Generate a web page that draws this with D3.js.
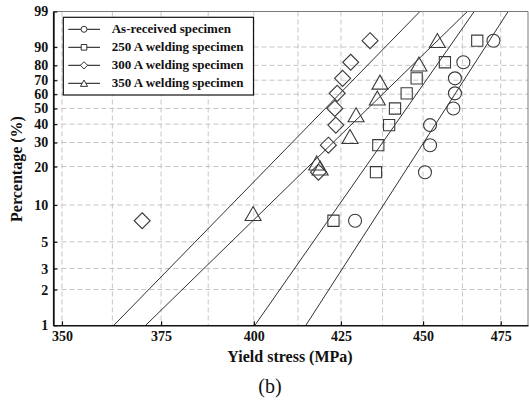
<!DOCTYPE html>
<html>
<head>
<meta charset="utf-8">
<script src="https://cdn.jsdelivr.net/npm/d3@7/dist/d3.min.js"></script>
<style>
  body { margin: 0; background: #fff; }
  svg { display: block; }
  text { font-family: "Liberation Serif", "Times New Roman", serif; }
</style>
</head>
<body>
<svg id="chart" width="529" height="403"></svg>
<script>
// Weibull probability plot of yield stress for four specimen groups

const seriesNames = [
  "As-received specimen",
  "250 A welding specimen",
  "300 A welding specimen",
  "350 A welding specimen"
];

// Median-rank plotting positions (%) for nine specimens
const rankPercent = [7.45, 18.1, 28.7, 39.4, 50.0, 60.6, 71.3, 81.9, 92.6];

// Yield stress (MPa), ordered by rank
const asReceived = [429.2, 450.6, 452.2, 452.2, 459.6, 460.1, 460.1, 462.8, 472.6];
const weld250    = [422.8, 435.5, 436.2, 439.5, 441.3, 444.9, 448.0, 456.9, 467.3];
const weld300    = [370.1, 418.4, 421.3, 423.5, 423.2, 423.9, 425.5, 427.9, 433.7];
const weld350    = [399.8, 418.9, 417.9, 427.7, 429.5, 435.9, 436.7, 448.7, 454.5];
const weld350Percent = [8.5, 19.4, 21.2, 32.9, 45.7, 57.1, 68.5, 80.7, 92.6];

// Fitted two-parameter Weibull lines: shape m and scale eta (MPa)
const shapeM   = [43.52, 40.14, 28.77, 27.37];
const scaleEta = [461.0, 448.9, 425.8, 438.9];

// Axis ticks
const xTicks = [350, 375, 400, 425, 450, 475];
const xGrid  = [350, 362.5, 375, 387.5, 400, 412.5, 425, 437.5, 450, 462.5, 475];
const yTicks = [1, 2, 3, 5, 10, 20, 30, 40, 50, 60, 70, 80, 90, 99];

const markers = ["circle", "square", "diamond", "triangle"];

// ---- layout ----
const plot = { left: 53.3, right: 528, top: 11.5, bottom: 325.3 };

const svg = d3.select("#chart");

// Weibull transform of a probability
const wb = p => Math.log(-Math.log(1 - p));

const x = d3.scaleLog().domain([347.9, 484.1]).range([plot.left, plot.right]);
const y = d3.scaleLinear().domain([wb(0.01), wb(0.99)]).range([plot.bottom, plot.top]);
const yP = pct => y(wb(pct / 100));

// ---- grid ----
const grid = svg.append("g").attr("stroke", "#c6c6c6").attr("stroke-width", 1)
  .attr("stroke-dasharray", "5,3").attr("fill", "none");
grid.selectAll("line.v").data(xGrid).join("line").attr("class", "v")
  .attr("x1", d => x(d)).attr("x2", d => x(d))
  .attr("y1", plot.top).attr("y2", plot.bottom);
grid.selectAll("line.h").data(yTicks.filter(t => t > 1 && t < 99)).join("line").attr("class", "h")
  .attr("x1", plot.left).attr("x2", plot.right)
  .attr("y1", d => yP(d)).attr("y2", d => yP(d));

// ---- fitted lines ----
svg.append("defs").append("clipPath").attr("id", "clip")
  .append("rect").attr("x", plot.left).attr("y", plot.top)
  .attr("width", plot.right - plot.left).attr("height", plot.bottom - plot.top);

const fitG = svg.append("g").attr("clip-path", "url(#clip)");
shapeM.forEach((m, i) => {
  const eta = scaleEta[i];
  const stressAt = p => eta * Math.pow(-Math.log(1 - p), 1 / m);
  const ends = [0.01, 0.99].map(p => [x(stressAt(p)), y(wb(p))]);
  fitG.append("path")
    .attr("d", d3.line()(ends))
    .attr("fill", "none").attr("stroke", "#1a1a1a").attr("stroke-width", 0.9);
});

// ---- markers ----
function markerPath(kind, s) {
  switch (kind) {
    case "circle":   return d3.symbol(d3.symbolCircle, Math.PI * s * s)();
    case "square":   return `M${-s},${-s}H${s}V${s}H${-s}Z`;
    case "diamond":  return `M0,${-s}L${s},0L0,${s}L${-s},0Z`;
    case "triangle": return `M0,${-s * 0.9}L${s},${s * 0.85}L${-s},${s * 0.85}Z`;
  }
}
const markerSize = { circle: 6.5, square: 5.6, diamond: 8, triangle: 8 };

const seriesValues = [asReceived, weld250, weld300, weld350];
const seriesPercent = [rankPercent, rankPercent, rankPercent, weld350Percent];

const ptsG = svg.append("g");
seriesValues.forEach((vals, i) => {
  const kind = markers[i];
  ptsG.append("g").selectAll("path").data(vals).join("path")
    .attr("transform", (d, j) => `translate(${x(d)},${yP(seriesPercent[i][j])})`)
    .attr("d", markerPath(kind, markerSize[kind]))
    .attr("fill", "none").attr("stroke", "#3a3a3a").attr("stroke-width", 1.1);
});

// ---- frame ----
svg.append("line").attr("x1", plot.left).attr("x2", plot.right)
  .attr("y1", plot.top).attr("y2", plot.top).attr("stroke", "#7a7a7a").attr("stroke-width", 1);
svg.append("line").attr("x1", plot.right).attr("x2", plot.right)
  .attr("y1", plot.top).attr("y2", plot.bottom).attr("stroke", "#7a7a7a").attr("stroke-width", 1);

// ---- axes ----
const yAxis = d3.axisLeft(y)
  .tickValues(yTicks.map(t => wb(t / 100)))
  .tickFormat((d, i) => yTicks[i])
  .tickSizeInner(-4).tickSizeOuter(0).tickPadding(5);
const gy = svg.append("g").attr("transform", `translate(${plot.left},0)`).call(yAxis);
gy.select(".domain").attr("stroke", "#111").attr("stroke-width", 1.8);
gy.selectAll(".tick line").attr("stroke", "#111").attr("stroke-width", 1.2);
gy.selectAll(".tick text")
  .attr("font-family", "Liberation Serif, serif").attr("font-size", 14)
  .attr("font-weight", "bold").attr("fill", "#111");

const xAxis = d3.axisBottom(x)
  .tickValues(xTicks).tickFormat(d3.format("d"))
  .tickSizeInner(-4).tickSizeOuter(0);
const gx = svg.append("g").attr("transform", `translate(0,${plot.bottom})`).call(xAxis);
gx.select(".domain").attr("stroke", "#111").attr("stroke-width", 1.6);
gx.selectAll(".tick line").attr("stroke", "#111").attr("stroke-width", 1.2);
gx.selectAll(".tick text")
  .attr("y", 15.7).attr("dy", 0)
  .attr("font-family", "Liberation Serif, serif").attr("font-size", 14)
  .attr("font-weight", "bold").attr("fill", "#111");

// ---- axis titles ----
svg.append("text")
  .attr("x", 290).attr("y", 361.5).attr("text-anchor", "middle")
  .attr("font-size", 16).attr("font-weight", "bold").attr("fill", "#111")
  .text("Yield stress (MPa)");
svg.append("text")
  .attr("transform", "translate(21.5,169) rotate(-90)").attr("text-anchor", "middle")
  .attr("font-size", 16).attr("font-weight", "bold").attr("fill", "#111")
  .text("Percentage (%)");
svg.append("text")
  .attr("x", 270).attr("y", 393).attr("text-anchor", "middle")
  .attr("font-size", 20).attr("fill", "#111")
  .text("(b)");

// ---- legend ----
const lg = svg.append("g");
lg.append("rect").attr("x", 63.3).attr("y", 17.3).attr("width", 190.2).attr("height", 77.7)
  .attr("fill", "#fff").attr("stroke", "#111").attr("stroke-width", 1.2);
const legendSize = { circle: 3, square: 2.8, diamond: 3.6, triangle: 3.6 };
seriesNames.forEach((name, i) => {
  const base = 33.3 + i * 18;
  const cy = base - 4;
  lg.append("line").attr("x1", 68.3).attr("x2", 100).attr("y1", cy).attr("y2", cy)
    .attr("stroke", "#111").attr("stroke-width", 1);
  lg.append("path").attr("transform", `translate(84,${cy})`)
    .attr("d", markerPath(markers[i], legendSize[markers[i]]))
    .attr("fill", "#fff").attr("stroke", "#333").attr("stroke-width", 1);
  lg.append("text").attr("x", 111.7).attr("y", base)
    .attr("font-size", 13).attr("font-weight", "bold").attr("fill", "#111")
    .text(name);
});
</script>
</body>
</html>
